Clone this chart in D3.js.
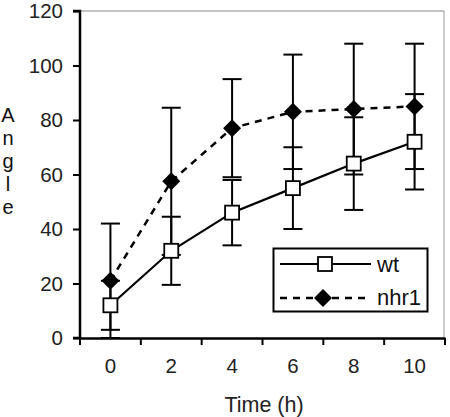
<!DOCTYPE html>
<html><head><meta charset="utf-8">
<script src="https://cdn.jsdelivr.net/npm/d3@7"></script>
<style>body{margin:0;background:#fff;} text{font-family:"Liberation Sans",Arial,sans-serif;}</style>
</head><body>
<svg id="c" width="450" height="417"></svg>
<script>
const times = [0, 2, 4, 6, 8, 10];
const wtMean = [12, 32, 46, 55, 64, 72];
const wtErr = [9, 12.5, 12, 15, 17, 17.5];
const nhrMean = [21, 57.5, 77, 83, 84, 85];
const nhrErr = [21, 27, 18, 21, 24, 23];
const yTicks = [0, 20, 40, 60, 80, 100, 120];
const seriesNames = ["wt", "nhr1"];

const svg = d3.select("#c");
const L = 80, R = 445, T = 11, B = 338;
const x = d3.scaleBand().domain(times).range([L, R]);
const y = d3.scaleLinear().domain([0, 120]).range([B, T]);
const cx = t => x(t) + x.bandwidth() / 2;

// frame (top and right)
svg.append("line").attr("x1", L).attr("x2", 444).attr("y1", T).attr("y2", T).attr("stroke", "#888").attr("stroke-width", 1);
svg.append("line").attr("x1", 444).attr("x2", 444).attr("y1", T).attr("y2", B).attr("stroke", "#999").attr("stroke-width", 1);

// axes
const yAxis = svg.append("g").attr("transform", `translate(${L},0)`)
  .call(d3.axisLeft(y).tickValues(yTicks).tickSize(7).tickPadding(10));
const xAxis = svg.append("g").attr("transform", `translate(0,${B})`)
  .call(d3.axisBottom(x).tickSize(0).tickPadding(20));
// boundary ticks for category axis
xAxis.selectAll(".bt").data(d3.range(times.length + 1)).enter().append("line")
  .attr("x1", i => L + i * x.step()).attr("x2", i => L + i * x.step())
  .attr("y1", 0).attr("y2", 7).attr("stroke", "#000").attr("stroke-width", 2);
[yAxis, xAxis].forEach(g => {
  g.select(".domain").attr("stroke", "#000").attr("stroke-width", 2.5);
  g.selectAll(".tick line").attr("stroke", "#000").attr("stroke-width", 2);
  g.selectAll(".tick text").attr("font-size", 20.5).attr("fill", "#222").attr("font-family", "Liberation Sans, Arial, sans-serif");
});
yAxis.select(".domain").attr("d", `M-7,${T}H0V${B}H-7`);

// axis titles
svg.append("text").attr("x", 264).attr("y", 412).attr("text-anchor", "middle")
  .attr("font-size", 21.5).attr("fill", "#222").text("Time (h)");
const ylab = svg.append("text").attr("x", 8).attr("y", 122).attr("text-anchor", "middle")
  .attr("font-size", 20).attr("fill", "#111");
"Angle".split("").forEach((ch, i) => ylab.append("tspan").attr("x", 8).attr("dy", i === 0 ? 0 : 23).text(ch));

const capW = 9.5;
function errorBars(means, errs) {
  const g = svg.append("g").attr("stroke", "#000").attr("stroke-width", 2);
  times.forEach((t, i) => {
    const lo = means[i] - errs[i], hi = means[i] + errs[i];
    g.append("line").attr("x1", cx(t)).attr("x2", cx(t)).attr("y1", y(lo)).attr("y2", y(hi));
    [lo, hi].forEach(v => g.append("line").attr("x1", cx(t) - capW).attr("x2", cx(t) + capW).attr("y1", y(v)).attr("y2", y(v)));
  });
}
errorBars(nhrMean, nhrErr);
errorBars(wtMean, wtErr);

const line = d3.line().x((d, i) => cx(times[i])).y(d => y(d));
svg.append("path").datum(nhrMean).attr("d", line).attr("fill", "none").attr("stroke", "#000")
  .attr("stroke-width", 2.5).attr("stroke-dasharray", "7,6");
svg.append("path").datum(wtMean).attr("d", line).attr("fill", "none").attr("stroke", "#000")
  .attr("stroke-width", 2.2);

const dSym = (sel, px, py) => sel.append("path").attr("d", "M0,-9L9,0L0,9L-9,0Z").attr("transform", `translate(${px},${py})`).attr("fill", "#000");
const sSym = (sel, px, py) => sel.append("rect").attr("x", px - 7).attr("y", py - 7).attr("width", 14).attr("height", 14)
  .attr("fill", "#fff").attr("stroke", "#000").attr("stroke-width", 1.8);
times.forEach((t, i) => dSym(svg, cx(t), y(nhrMean[i])));
times.forEach((t, i) => sSym(svg, cx(t), y(wtMean[i])));

// legend
const lg = svg.append("g");
lg.append("rect").attr("x", 273.5).attr("y", 248.5).attr("width", 154).attr("height", 63)
  .attr("fill", "#fff").attr("stroke", "#000").attr("stroke-width", 2);
lg.append("line").attr("x1", 280).attr("x2", 371).attr("y1", 264).attr("y2", 264).attr("stroke", "#000").attr("stroke-width", 2);
sSym(lg, 325, 264);
lg.append("line").attr("x1", 280).attr("x2", 371).attr("y1", 298).attr("y2", 298).attr("stroke", "#000")
  .attr("stroke-width", 2.5).attr("stroke-dasharray", "7,6");
dSym(lg, 323, 298);
lg.append("text").attr("x", 377).attr("y", 272).attr("font-size", 22).attr("fill", "#111").text(seriesNames[0]);
lg.append("text").attr("x", 377).attr("y", 305).attr("font-size", 22).attr("fill", "#111").text(seriesNames[1]);
</script>
</body></html>
